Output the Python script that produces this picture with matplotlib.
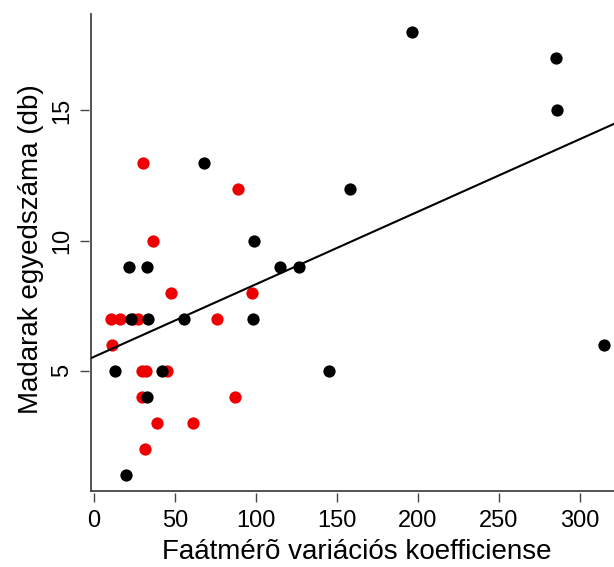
import matplotlib
matplotlib.use("Agg")
import matplotlib.pyplot as plt
from matplotlib.lines import Line2D

plt.rcParams['font.family'] = ['Liberation Sans', 'DejaVu Sans']

# Black group
black_x = [196, 285, 286, 315, 158, 115, 126.5, 145, 68, 99, 98, 55.5, 21.6, 33, 33.5, 22.6, 13, 41.8, 32.5, 20]
black_y = [18, 17, 15, 6, 12, 9, 9, 5, 13, 10, 7, 7, 9, 9, 7, 7, 5, 5, 4, 1]
# Red group
red_x = [30.5, 88.7, 36.2, 47.5, 97.7, 10.3, 16, 24.3, 27.4, 75.7, 11.3, 29.4, 31.9, 44.9, 29.4, 87, 38.7, 61.3, 31.5]
red_y = [13, 12, 10, 8, 8, 7, 7, 7, 7, 7, 6, 5, 5, 5, 4, 4, 3, 3, 2]

# Regression line
intercept = 5.53
slope = 0.0279

x_ticks = [0, 50, 100, 150, 200, 250, 300]
y_ticks = [5, 10, 15]
x_label = "Faátmérõ variációs koefficiense"
y_label = "Madarak egyedszáma (db)"

W, H = 614, 567
fig = plt.figure(figsize=(W / 100, H / 100), dpi=100)
ax = fig.add_axes([91 / W, (H - 491) / H, (614 - 91) / W, (491 - 14) / H])

ax.scatter(red_x, red_y, s=78, color='#ee0000', linewidths=0, zorder=3)
ax.scatter(black_x, black_y, s=78, color='black', linewidths=0, zorder=3)
ax.axline((0, intercept), slope=slope, color='black', lw=1.5, zorder=4)

ax.set_xlim(-1.85, 321)
ax.set_ylim(0.37, 18.71)

for s in ax.spines.values():
    s.set_visible(False)
# ticks sit slightly apart from the box
ax.spines['bottom'].set_position(('outward', 1.5))
ax.spines['left'].set_position(('outward', 1.5))
# L-shaped box
ax.add_line(Line2D([0, 0], [0, 1], transform=ax.transAxes, color='#444444', lw=1.3, clip_on=False))
ax.add_line(Line2D([0, 1], [0, 0], transform=ax.transAxes, color='#444444', lw=1.3, clip_on=False))

ax.set_xticks(x_ticks)
ax.set_yticks(y_ticks)
ax.set_yticklabels([str(v) for v in y_ticks], rotation=90, va='center')
ax.tick_params(axis='both', direction='out', length=6.5, width=1.0, color='#444444',
               labelsize=17, pad=5)
ax.tick_params(axis='x', pad=6)

ax.set_xlabel(x_label, fontsize=20)
ax.set_ylabel(y_label, fontsize=20)
ax.xaxis.set_label_coords((357 - 91) / 523, -(552 - 491) / 477)
ax.yaxis.set_label_coords((31 - 91) / 523, (491 - 249) / 477)
ax.xaxis.label.set_va('center')
ax.yaxis.label.set_va('center')

fig.savefig("out.png", dpi=100)
